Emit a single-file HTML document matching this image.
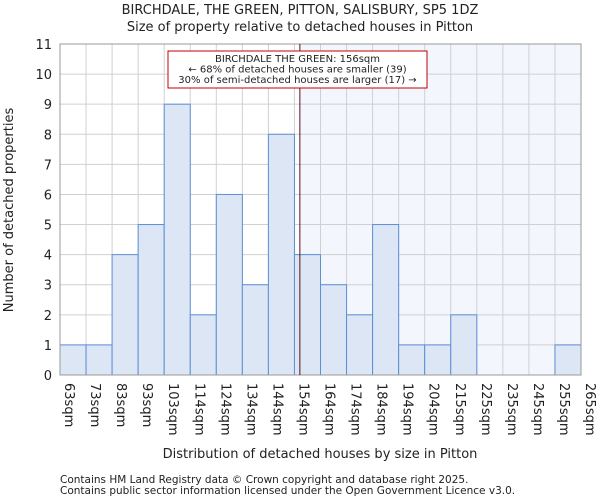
<!DOCTYPE html>
<html><head><meta charset="utf-8"><style>
body{margin:0;background:#fff;font-family:"DejaVu Sans","Liberation Sans",sans-serif;}
svg text{font-family:"DejaVu Sans","Liberation Sans",sans-serif;fill:#222;}
</style></head><body>
<svg id="c" width="600" height="500"></svg>
<script>
const labels=["63sqm","73sqm","83sqm","93sqm","103sqm","114sqm","124sqm","134sqm","144sqm","154sqm","164sqm","174sqm","184sqm","194sqm","204sqm","215sqm","225sqm","235sqm","245sqm","255sqm","265sqm"];
const counts=[1,1,4,5,9,2,6,3,8,4,3,2,5,1,1,2,0,0,0,1];
const yTicks=[0,1,2,3,4,5,6,7,8,9,10,11];
const marker=156;
const binStart=63, binW=10.1;
const X0=60,X1=581,Y0=375,Y1=44;
const svg=document.getElementById('c');
const NS="http://www.w3.org/2000/svg";
function el(t,a,p){const e=document.createElementNS(NS,t);for(const k in a)e.setAttribute(k,a[k]);(p||svg).appendChild(e);return e;}
const bw=(X1-X0)/counts.length;
const xb=i=>X0+i*bw;
const xv=v=>X0+(v-binStart)/binW*bw;
const y=v=>Y0-(v/11)*(Y0-Y1);
const sh=el('rect',{x:xv(marker),y:Y1,width:X1-xv(marker),height:Y0-Y1,fill:'#f3f6fd'});


yTicks.forEach(t=>{const g=el('line',{x1:X0,x2:X1,y1:y(t),y2:y(t),stroke:'#d0d0d0'});


const tx=el('text',{x:X0-8,y:y(t)+5,'text-anchor':'end','font-size':13});tx.textContent=t;

});
labels.forEach((l,i)=>{const g=el('line',{x1:xb(i),x2:xb(i),y1:Y1,y2:Y0,stroke:'#d0d0d0'});


const tx=el('text',{transform:`translate(${xb(i)+5},${Y0+8}) rotate(90)`,'font-size':13});tx.textContent=l;

});
counts.forEach((c,i)=>{if(!c)return;const r=el('rect',{x:xb(i),y:y(c),width:bw,height:Y0-y(c),fill:'#dce6f4',stroke:'#5b8fd6','stroke-width':1});

});
const ax=el('rect',{x:X0,y:Y1,width:X1-X0,height:Y0-Y1,fill:'none',stroke:'#999'});


const ml=el('line',{x1:xv(marker),x2:xv(marker),y1:Y1,y2:Y0,stroke:'#5a1020','stroke-width':1});


const box=el('rect',{x:168,y:51,width:259,height:37,fill:'#fff',stroke:'#c00000'});


["BIRCHDALE THE GREEN: 156sqm","← 68% of detached houses are smaller (39)","30% of semi-detached houses are larger (17) →"].forEach((s,i)=>{
const t=el('text',{x:297.5,y:62+i*10.5,'text-anchor':'middle','font-size':10});t.textContent=s;

});
function txt(s,a,n){const t=el('text',a);t.textContent=s;}
txt("BIRCHDALE, THE GREEN, PITTON, SALISBURY, SP5 1DZ",{x:300,y:14,'text-anchor':'middle','font-size':13},'chart-title');
txt("Size of property relative to detached houses in Pitton",{x:300,y:31,'text-anchor':'middle','font-size':13},'chart-subtitle');
txt("Distribution of detached houses by size in Pitton",{x:320,y:458,'text-anchor':'middle','font-size':13},'x-axis-title');
txt("Number of detached properties",{transform:'translate(13,210) rotate(-90)','text-anchor':'middle','font-size':13},'y-axis-title');
txt("Contains HM Land Registry data © Crown copyright and database right 2025.",{x:60,y:483,'font-size':10.5,fill:'#444'},'footer-line-1');
txt("Contains public sector information licensed under the Open Government Licence v3.0.",{x:60,y:494,'font-size':10.5,fill:'#444'},'footer-line-2');
</script></body></html>
